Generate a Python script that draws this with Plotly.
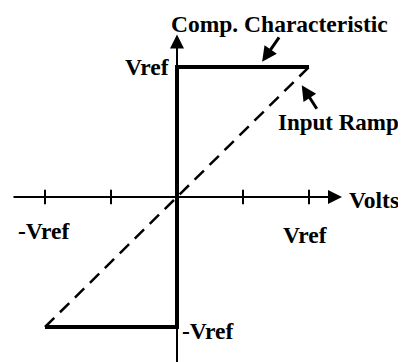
import plotly.graph_objects as go

# ---- data (in units where Vref = 2) ----
vref = 2
tick_positions = [-2, -1, 1, 2]
comp_x = [-2, 0, 0, 2]
comp_y = [-2, -2, 2, 2]
ramp_x = [-2, 2]
ramp_y = [-2, 2]
axis_extent = 2.5

W, H = 406, 362
PAGE_OFFSET = 8               # default body margin of the html page
X0_PX, Y0_PX = 177 - PAGE_OFFSET, 197 - PAGE_OFFSET   # origin pixel position in figure
SX, SY = 66.0, 65.0           # pixels per unit

x_range = [-X0_PX / SX, (W - X0_PX) / SX]
y_range = [-(H - Y0_PX) / SY, Y0_PX / SY]

FONT = dict(family="Liberation Serif", size=23.5, color="black", weight="bold")

fig = go.Figure()

# tick marks
tx, ty = [], []
for t in tick_positions:
    tx += [t, t, None]
    ty += [-0.11, 0.11, None]
fig.add_trace(go.Scatter(x=tx, y=ty, mode="lines",
                         line=dict(color="black", width=2), hoverinfo="skip"))

# input ramp (dashed)
fig.add_trace(go.Scatter(x=ramp_x, y=ramp_y, mode="lines",
                         line=dict(color="black", width=2.5, dash="13px,8px"),
                         hoverinfo="skip"))

# comparator characteristic
fig.add_trace(go.Scatter(x=comp_x, y=comp_y, mode="lines",
                         line=dict(color="black", width=4), hoverinfo="skip"))

ann = []
# x axis with arrow
ann.append(dict(x=axis_extent, y=0, ax=-axis_extent, ay=0, xref="x", yref="y",
                axref="x", ayref="y", text="", showarrow=True, arrowhead=2,
                arrowsize=1.4, arrowwidth=2, arrowcolor="black"))
# y axis with arrow
ann.append(dict(x=0, y=axis_extent, ax=0, ay=y_range[0], xref="x", yref="y",
                axref="x", ayref="y", text="", showarrow=True, arrowhead=2,
                arrowsize=1.4, arrowwidth=2, arrowcolor="black"))

# callout arrows
ann.append(dict(x=1.29, y=2.08, ax=18, ay=-26, xref="x", yref="y", text="",
                showarrow=True, arrowhead=2, arrowsize=1, arrowwidth=3,
                arrowcolor="black"))
ann.append(dict(x=1.89, y=1.72, ax=16, ay=25, xref="x", yref="y", text="",
                showarrow=True, arrowhead=2, arrowsize=1, arrowwidth=3,
                arrowcolor="black"))

def label(text, x, y, xanchor="center", yanchor="middle", size=None):
    f = dict(FONT)
    if size:
        f["size"] = size
    ann.append(dict(x=x, y=y, xref="x", yref="y", text=text, showarrow=False,
                    font=f, xanchor=xanchor, yanchor=yanchor))

label("Comp. Characteristic", 1.56, 2.66)
label("Input Ramp", 2.44, 1.14, size=23)
label("Vref", -0.08, vref, xanchor="right")
label("-Vref", 0.05, -vref - 0.06, xanchor="left")
label("-Vref", -2.01, -0.52)
label("Vref", 1.94, -0.58)
label("Volts", 2.58, -0.04, xanchor="left")

fig.update_layout(
    width=W, height=H,
    margin=dict(l=0, r=0, t=0, b=0),
    paper_bgcolor="white", plot_bgcolor="white",
    showlegend=False,
    xaxis=dict(range=x_range, visible=False, fixedrange=True),
    yaxis=dict(range=y_range, visible=False, fixedrange=True),
    annotations=ann,
)

fig.write_html("out.html")
